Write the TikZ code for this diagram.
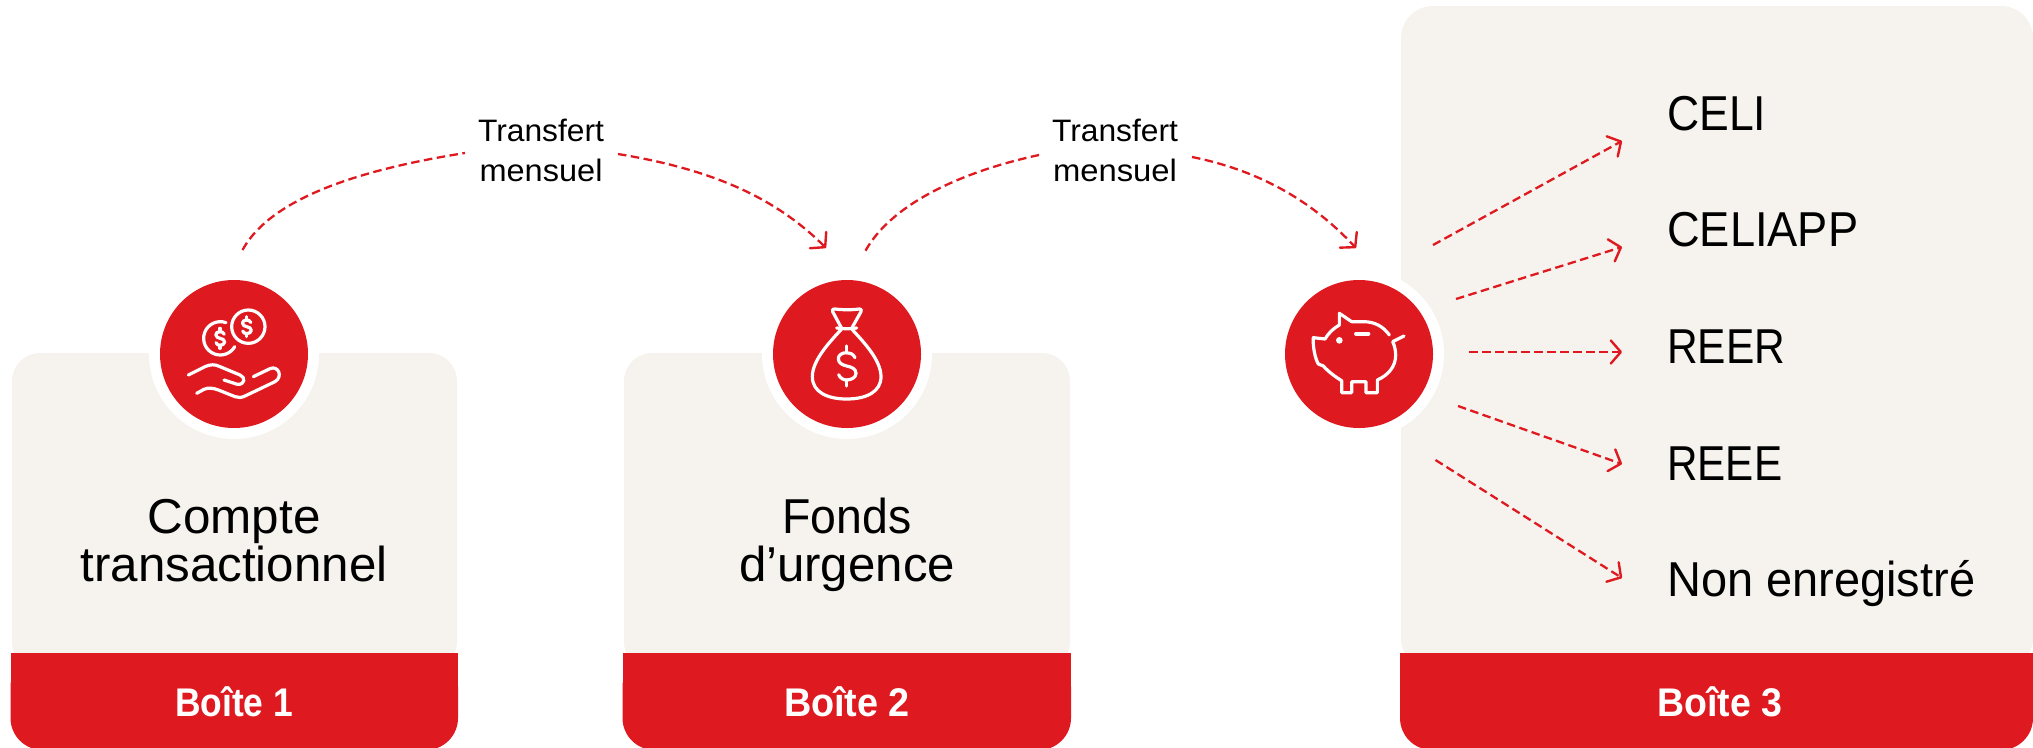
\documentclass[tikz,border=0pt]{standalone}
\usepackage{fontspec}
\usepackage{graphicx}
\setmainfont{Liberation Sans}
\usetikzlibrary{arrows.meta}
\definecolor{brandred}{RGB}{223,25,32}
\definecolor{paper}{RGB}{246,243,238}
\newcommand{\fitw}[2]{\resizebox{#1pt}{\height}{#2}}
\tikzset{
  iconline/.style={draw=white,line width=3.2pt,line cap=round,line join=round},
  flow/.style={draw=brandred,line width=2.3pt,dash pattern=on 8.5pt off 4.5pt,-{Straight Barb[length=10pt,width=23pt,line width=2.4pt,round]}},
  bigtext/.style={inner sep=0pt,anchor=base,font=\fontsize{49}{49}\selectfont,text=black},
  listtext/.style={inner sep=0pt,anchor=base west,font=\fontsize{49}{49}\selectfont,text=black},
  smalltext/.style={inner sep=0pt,anchor=base,font=\fontsize{31}{31}\selectfont,text=black},
  boxtitle/.style={inner sep=0pt,anchor=base,font=\fontsize{40}{40}\selectfont\bfseries,text=white},
  halo/.style={circle,fill=white,minimum size=170pt,inner sep=0pt},
  badge/.style={circle,fill=brandred,minimum size=148pt,inner sep=0pt},
  dollarsign/.pic={
    \path[iconline] (25,-25) .. controls (20,-36) and (10,-40) .. (0,-40)
      .. controls (-15,-40) and (-25,-32) .. (-25,-22)
      .. controls (-25,-8) and (-12,-3) .. (0,0)
      .. controls (14,3) and (28,8) .. (28,22)
      .. controls (28,34) and (14,42) .. (0,42)
      .. controls (-10,42) and (-20,36) .. (-24,26);
    \path[iconline] (0,-60) -- (0,-40) (0,42) -- (0,60);
  }
}
\begin{document}
\begin{tikzpicture}[x=1pt,y=-1pt]
\useasboundingbox (0,0) rectangle (2033,747);
\begin{scope}
\clip (0,0) rectangle (2033,747);
% boxes
\fill[paper,rounded corners=28pt] (12,670) -- (12,353) -- (457,353) -- (457,670) -- cycle;
\fill[paper,rounded corners=28pt] (624,670) -- (624,353) -- (1070,353) -- (1070,670) -- cycle;
\fill[paper,rounded corners=32pt] (1401,670) -- (1401,6) -- (2033,6) -- (2033,670) -- cycle;
\fill[brandred] (10.5,653) rectangle (458,710);
\fill[brandred,rounded corners=32pt] (10.5,655) -- (10.5,750) -- (458,750) -- (458,655) -- cycle;
\fill[brandred] (622.5,653) rectangle (1071,710);
\fill[brandred,rounded corners=32pt] (622.5,655) -- (622.5,750) -- (1071,750) -- (1071,655) -- cycle;
\fill[brandred] (1400,653) rectangle (2033,710);
\fill[brandred,rounded corners=32pt] (1400,655) -- (1400,750) -- (2033,750) -- (2033,655) -- cycle;
\end{scope}
% badges
\node[halo] (h1) at (234,354) {};
\node[halo] (h2) at (847,354) {};
\node[halo] (h3) at (1359,354) {};
\node[badge] (c1) at (234,354) {};
\node[badge] (c2) at (847,354) {};
\node[badge] (c3) at (1359,354) {};
% icon 1: hand and coins
\begin{scope}[shift={(130,260)},x=0.33333pt,y=-0.33333pt]
  \path[iconline] (355,200) circle[radius=50];
  \path[iconline] (288,188) arc[start angle=-70,end angle=-330,radius=50];
  \pic[scale=0.5] at (270,235) {dollarsign};
  \pic[scale=0.5] at (350,200) {dollarsign};
  \path[iconline] (175,345) -- (225,320) .. controls (240,313) and (255,312) .. (270,320) -- (330,345)
     .. controls (348,352) and (345,375) .. (322,373) -- (282,360);
  \path[iconline] (200,400) -- (222,388) .. controls (235,382) and (250,384) .. (265,390) -- (315,410)
     .. controls (325,414) and (335,413) .. (345,408) -- (435,365)
     .. controls (460,350) and (445,315) .. (420,326) -- (370,350);
\end{scope}
% icon 2: money bag
\begin{scope}[shift={(740,260)},x=0.33333pt,y=-0.33333pt]
  \path[iconline] (305,207) .. controls (270,245) and (217,300) .. (217,350)
     .. controls (217,395) and (260,417) .. (320,417)
     .. controls (380,417) and (423,395) .. (423,350)
     .. controls (423,300) and (370,245) .. (335,207);
  \path[iconline] (305,205) -- (278,155) .. controls (275,148) and (280,146) .. (285,147)
     .. controls (310,150) and (335,150) .. (358,147)
     .. controls (363,146) and (366,150) .. (363,155) -- (335,205);
  \path[iconline] (290,204) .. controls (310,207) and (330,207) .. (350,204);
  \pic at (320,318) {dollarsign};
\end{scope}
% icon 3: piggy bank
\begin{scope}[shift={(1260,260)},x=0.33333pt,y=-0.33333pt]
  \path[iconline] (388,225) .. controls (370,200) and (345,185) .. (310,185) -- (275,185) -- (238,160) -- (238,195)
     .. controls (220,205) and (205,220) .. (195,237) -- (160,233)
     .. controls (158,260) and (165,295) .. (175,312) -- (190,318)
     .. controls (205,335) and (225,350) .. (245,362) -- (245,398) -- (275,398) -- (275,365)
     -- (318,365) -- (318,398) -- (352,398) -- (352,360)
     .. controls (385,345) and (407,320) .. (407,285)
     .. controls (407,270) and (403,255) .. (398,245) -- (432,228);
  \fill[white] (238,241) circle[radius=10];
  \path[iconline,line width=4pt] (288,221) -- (325,221);
\end{scope}
% texts
\node[bigtext] (t1a) at (234,533) {\fitw{173}{Compte}};
\node[bigtext] (t1b) at (234,581) {\fitw{307}{transactionnel}};
\node[bigtext] (t2a) at (847,533) {\fitw{129}{Fonds}};
\node[bigtext] (t2b) at (847,581) {\fitw{216}{d’urgence}};
\node[boxtitle] (b1) at (234,716) {\fitw{118}{Boîte 1}};
\node[boxtitle] (b2) at (847,716) {\fitw{126}{Boîte 2}};
\node[boxtitle] (b3) at (1720,716) {\fitw{125}{Boîte 3}};
\node[smalltext] (m1a) at (541,141) {\fitw{126}{Transfert}};
\node[smalltext] (m1b) at (541,181) {\fitw{123}{mensuel}};
\node[smalltext] (m2a) at (1115,141) {\fitw{126}{Transfert}};
\node[smalltext] (m2b) at (1115,181) {\fitw{124}{mensuel}};
\node[listtext] (l1) at (1667,130) {\fitw{99}{CELI}};
\node[listtext] (l2) at (1667,246) {\fitw{191}{CELIAPP}};
\node[listtext] (l3) at (1667,363) {\fitw{118}{REER}};
\node[listtext] (l4) at (1667,480) {\fitw{115}{REEE}};
\node[listtext] (l5) at (1667,596) {\fitw{308}{Non enregistré}};
% connector ends
\coordinate (a1s) at (242.5,250);
\coordinate (a1e) at (465,153);
\coordinate (a2s) at (618,154);
\coordinate (a2e) at (826,248);
\coordinate (a3s) at (865.5,250.7);
\coordinate (a3e) at (1039,155);
\coordinate (a4s) at (1192,157);
\coordinate (a4e) at (1356,248);
\coordinate (f1s) at (1433,245);
\coordinate (f1e) at (1622,141);
\coordinate (f2s) at (1456,299);
\coordinate (f2e) at (1622,247);
\coordinate (f3s) at (1469,352);
\coordinate (f3e) at (1622,352);
\coordinate (f4s) at (1458,406);
\coordinate (f4e) at (1622,464);
\coordinate (f5s) at (1435.5,460);
\coordinate (f5e) at (1622,578);
% curved connectors
\draw[flow,-] (a1s) .. controls +(30,-55) and +(-95,15) .. (a1e);
\draw[flow] (a2s) .. controls +(85,14) and +(-55,-55) .. (a2e);
\draw[flow,-] (a3s) .. controls +(28,-50) and +(-70,15) .. (a3e);
\draw[flow] (a4s) .. controls +(70,14) and +(-42,-45) .. (a4e);
% straight connectors
\draw[flow] (f1s) -- (f1e);
\draw[flow] (f2s) -- (f2e);
\draw[flow] (f3s) -- (f3e);
\draw[flow] (f4s) -- (f4e);
\draw[flow] (f5s) -- (f5e);
\end{tikzpicture}
\end{document}
